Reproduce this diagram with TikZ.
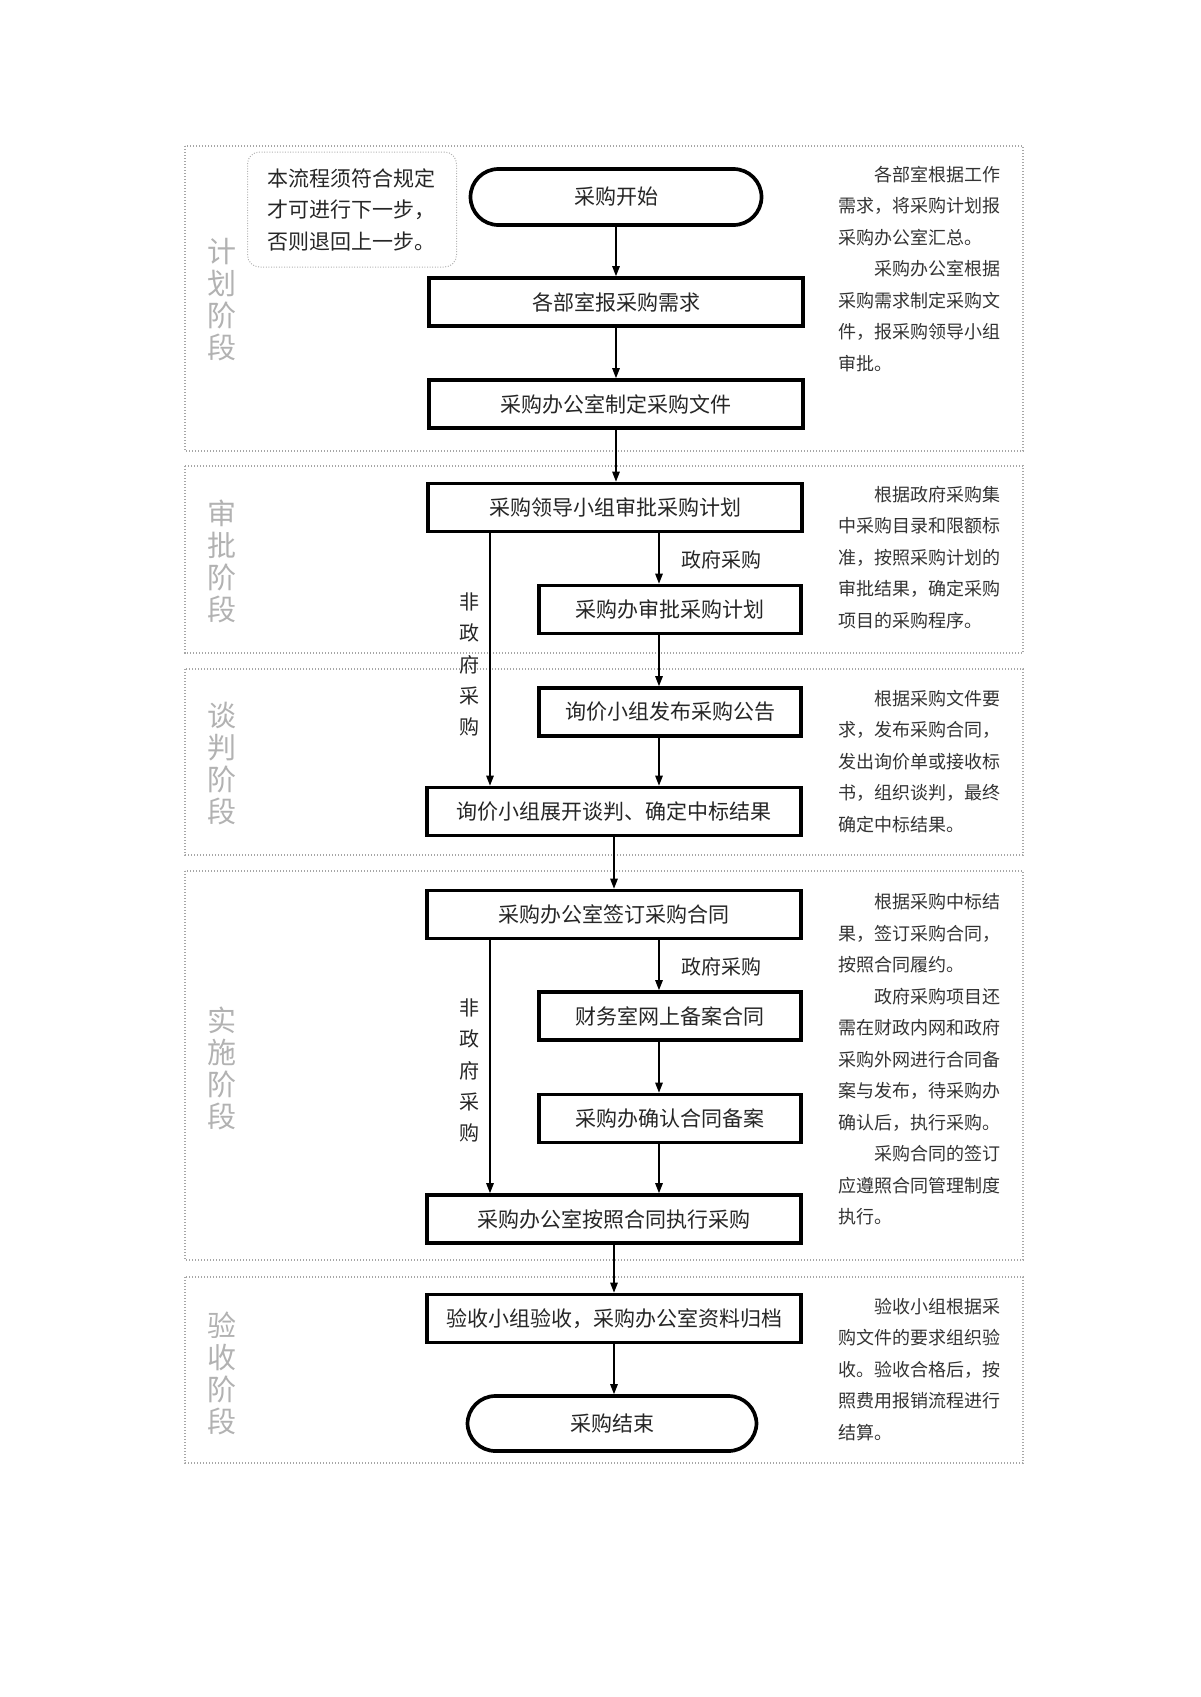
\documentclass[tikz,border=0pt]{standalone}
\usepackage{fontspec}
\setmainfont{Noto Sans CJK SC}
\usetikzlibrary{arrows.meta}
\begin{document}
\begin{tikzpicture}[x=1pt,y=-1pt,
  stage/.style={draw=gray!70, line width=1.2pt, dash pattern=on 1.2pt off 1.8pt},
  stagelbl/.style={text=gray!60, font=\fontsize{29}{32}\selectfont, align=center, inner sep=0},
  proc/.style={draw=black, line width=3.7pt, fill=white, minimum width=374pt, minimum height=48pt, inner sep=0, font=\fontsize{21}{21}\selectfont, text=black!85},
  sproc/.style={proc, minimum width=262pt},
  term/.style={proc, rounded corners=28pt, minimum width=291pt, minimum height=56pt},
  arr/.style={line width=1.3pt, -{Triangle[length=10pt,width=7.5pt]}},
  side/.style={anchor=base west, text width=168pt, align=left, inner sep=0, font=\fontsize{18}{31.5}\selectfont, text=black!80},
  lbl/.style={font=\fontsize{20}{31.3}\selectfont, text=black!85, inner sep=0, align=center},
  notebox/.style={draw=gray!60, line width=1pt, dash pattern=on 1pt off 1.6pt, rounded corners=12pt, text width=170pt, inner xsep=19.5pt, minimum height=115pt, align=left, font=\fontsize{21}{31.5}\selectfont, text=black!85}
]
\useasboundingbox (0,0) rectangle (1200,1697);

% stage frames
\draw[stage] (185,146) rectangle (1023,451);
\draw[stage] (185,466) rectangle (1023,653);
\draw[stage] (185,669) rectangle (1023,855);
\draw[stage] (185,871) rectangle (1023,1260);
\draw[stage] (185,1277) rectangle (1023,1463);

% stage labels
\node[stagelbl] (s1) at (222,300) {计\\划\\阶\\段};
\node[stagelbl] (s2) at (222,561) {审\\批\\阶\\段};
\node[stagelbl] (s3) at (222,764) {谈\\判\\阶\\段};
\node[stagelbl] (s4) at (222,1068) {实\\施\\阶\\段};
\node[stagelbl] (s5) at (222,1373) {验\\收\\阶\\段};

% note
\node[notebox] (note) at (352,209.5) {本流程须符合规定\\才可进行下一步，\\否则退回上一步。};

% flow nodes
\node[term] (start) at (616,197) {采购开始};
\node[proc] (b1) at (616,302) {各部室报采购需求};
\node[proc] (b2) at (616,404) {采购办公室制定采购文件};
\node[proc] (b3) at (615,507.5) {采购领导小组审批采购计划};
\node[sproc] (b4) at (670,609.5) {采购办审批采购计划};
\node[sproc] (b5) at (670,712) {询价小组发布采购公告};
\node[proc] (b6) at (614,811.5) {询价小组展开谈判、确定中标结果};
\node[proc] (b7) at (614,914.5) {采购办公室签订采购合同};
\node[sproc] (b8) at (670,1016) {财务室网上备案合同};
\node[sproc] (b9) at (670,1118.5) {采购办确认合同备案};
\node[proc] (b10) at (614,1219) {采购办公室按照合同执行采购};
\node[proc] (b11) at (614,1318.5) {验收小组验收，采购办公室资料归档};
\node[term, minimum width=289pt, minimum height=55pt] (end) at (612,1423.5) {采购结束};

\coordinate (gx) at (659,0);
\coordinate (ngx) at (490,0);

% connectors
\draw[arr] (start.south) -- (start.south |- b1.north);
\draw[arr] (b1.south) -- (b1.south |- b2.north);
\draw[arr] (b2.south) -- (b2.south |- b3.north);
\draw[arr] (b3.south -| gx) -- (b4.north -| gx);
\draw[arr] (b4.south -| gx) -- (b5.north -| gx);
\draw[arr] (b5.south -| gx) -- (b6.north -| gx);
\draw[arr] (b3.south -| ngx) -- (b6.north -| ngx);
\draw[arr] (b6.south) -- (b6.south |- b7.north);
\draw[arr] (b7.south -| gx) -- (b8.north -| gx);
\draw[arr] (b8.south -| gx) -- (b9.north -| gx);
\draw[arr] (b9.south -| gx) -- (b10.north -| gx);
\draw[arr] (b7.south -| ngx) -- (b10.north -| ngx);
\draw[arr] (b10.south) -- (b10.south |- b11.north);
\draw[arr] (b11.south) -- (b11.south |- end.north);

% branch labels
\node[lbl] (g1) at (721,560) {政府采购};
\node[lbl] (g2) at (721,967) {政府采购};
\node[lbl] (n1) at (469,664.5) {非\\政\\府\\采\\购};
\node[lbl] (n2) at (469,1070.5) {非\\政\\府\\采\\购};

% side texts
\node[side] (t1) at (838,181) {\hspace*{2em}各部室根据工作\\需求，将采购计划报\\采购办公室汇总。\\\hspace*{2em}采购办公室根据\\采购需求制定采购文\\件，报采购领导小组\\审批。};
\node[side] (t2) at (838,501) {\hspace*{2em}根据政府采购集\\中采购目录和限额标\\准，按照采购计划的\\审批结果，确定采购\\项目的采购程序。};
\node[side] (t3) at (838,705) {\hspace*{2em}根据采购文件要\\求，发布采购合同，\\发出询价单或接收标\\书，组织谈判，最终\\确定中标结果。};
\node[side] (t4) at (838,908.5) {\hspace*{2em}根据采购中标结\\果，签订采购合同，\\按照合同履约。\\\hspace*{2em}政府采购项目还\\需在财政内网和政府\\采购外网进行合同备\\案与发布，待采购办\\确认后，执行采购。\\\hspace*{2em}采购合同的签订\\应遵照合同管理制度\\执行。};
\node[side] (t5) at (838,1313) {\hspace*{2em}验收小组根据采\\购文件的要求组织验\\收。验收合格后，按\\照费用报销流程进行\\结算。};
\end{tikzpicture}
\end{document}
